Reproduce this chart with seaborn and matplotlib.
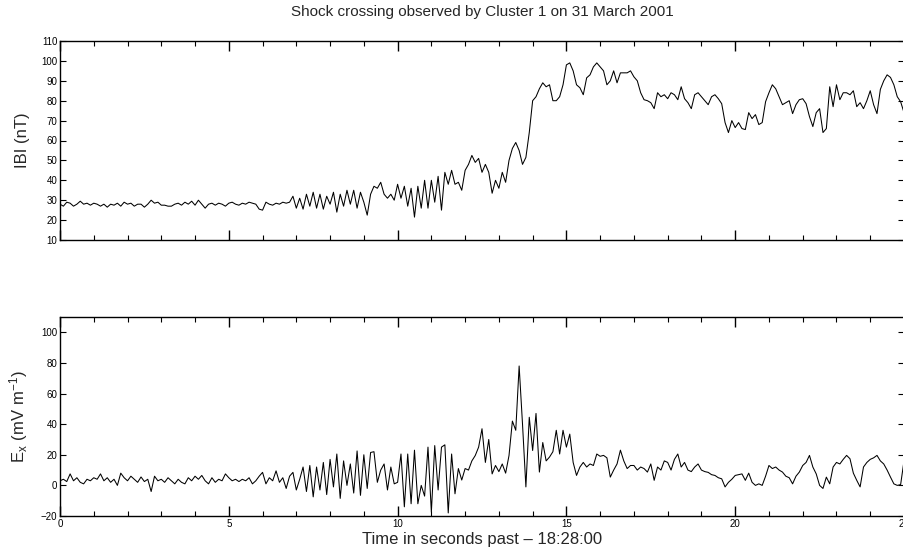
import numpy as np
import pandas as pd
import matplotlib
matplotlib.use("Agg")
import matplotlib.pyplot as plt
from matplotlib.ticker import MultipleLocator
import seaborn as sns

# ---------------- data (0.1 s sampling) ----------------
time_start = 0.0
time_step = 0.1

b_field = [
    28, 27, 29, 28.5, 27, 28, 29.5, 28, 28.5, 27.5,
    28.5, 28, 27, 28, 26.5, 28, 27.5, 28.5, 27, 29,
    28, 28.5, 27, 28, 28, 26.5, 28, 30, 28.5, 29,
    27.5, 27.5, 27, 27, 28, 28.5, 27.5, 29, 28, 29.5,
    27.5, 30, 28, 26, 28, 28.5, 27.5, 28.5, 28, 27,
    28.5, 29, 28, 27.5, 28.5, 28, 29, 28.5, 28, 25.5,
    25, 29, 28, 27.5, 28.5, 28, 29, 28.5, 29, 32,
    26, 31, 25.5, 33, 27, 34, 26, 33, 25.5, 32,
    28, 34, 24, 33, 27, 35, 28, 35, 26, 34,
    29, 22.5, 33, 37, 36, 39, 33, 31, 33, 30,
    38, 31, 37, 27, 36, 21.5, 37, 26, 40, 26,
    40, 29, 42, 25, 44, 38, 45, 38, 39, 35,
    45, 48, 52.5, 49, 51, 44, 48, 44, 33.5, 40,
    36, 44, 39, 50, 56, 59, 55, 48, 51.5, 64,
    80, 82, 86, 89, 87, 88, 80, 80, 82, 88,
    98, 99, 95, 88, 86.5, 83, 91.5, 93, 97, 99,
    97, 95, 88, 90, 95, 89, 94, 94, 94, 95,
    92, 90, 84, 80.5, 80, 79, 76, 84, 82, 83,
    81, 84, 83, 80.5, 87, 81, 79, 76, 83, 84,
    82, 80, 78, 82, 83, 81, 78.5, 69, 64, 70,
    66.5, 69, 66, 65.5, 74, 71, 73, 68, 69, 79.5,
    84, 88, 86, 82, 78, 79, 80, 73.5, 78, 80.5,
    81, 78.5, 72, 67, 74, 76, 64, 66, 87, 77,
    88, 80.5, 84, 84, 83, 85, 77, 79, 76, 80,
    85, 78, 73.5, 85.7, 90, 93, 91.7, 88, 82, 79.5,
    74,
]

e_field = [
    3, 4, 2.5, 7.5, 3, 5, 2, 1, 4, 3,
    5, 4, 7.5, 3, 5, 2, 4, 0, 8, 5,
    3, 6, 4, 2, 5.5, 2.5, 4, -4, 6, 3,
    4, 2, 5, 3, 1, 4, 2, 1, 5, 3,
    6, 4, 6.5, 3, 1, 5, 2, 4, 3, 7.5,
    5, 3, 4, 2.5, 4, 3, 5, 1, 3, 6,
    8.5, 1, 5, 3, 9.5, 2, 5, -2, 6, 8.5,
    -3, 4, 12, -4, 13, -7.5, 12, -3, 15, -6,
    17, -1, 20.5, -8.5, 16, 0, 14, -5, 22.5, -6.5,
    20, -2, 21.5, 22, 2, 10, 14, -3, 12, 1,
    2, 20.5, -14, 20.5, -12, 23, -12, 0, -7, 25,
    -17.5, 26, -3, 25, 26.5, -18, 20.5, -5.5, 11, 3.5,
    11, 10, 16, 19.5, 25, 37, 15, 30, 7.5, 13,
    9, 14, 8, 19.5, 42, 36, 78, 40, -1, 44.5,
    22.8, 47, 8.7, 28, 16, 18.5, 22, 36, 20.5, 36,
    25, 33.5, 15, 6.5, 12, 15, 12, 14, 13, 20.5,
    19, 19.6, 18, 5.4, 10, 14, 23, 16, 11, 13,
    13, 10, 12, 11, 8.7, 14, 3.3, 12, 10, 16,
    15, 10, 17, 20.5, 12, 15, 10, 9, 12, 14,
    10, 9, 8.5, 7, 6.5, 5, 4.3, -1, 2, 4,
    6.5, 7, 7.5, 3.3, 8, 2, 0, 1, 0, 6,
    13, 11, 12, 10, 8.7, 6, 5, 1, 6, 8.7,
    13, 15, 19.6, 12, 7.5, 0, -2, 5.4, 1, 12,
    15, 14, 17, 19.6, 17.4, 8, 3.3, -1, 12, 15,
    17, 18, 19.6, 16, 14, 10, 5.4, 1, 0, 0.5,
    16,
]

x_ticks = [0, 5, 10, 15, 20, 25]
b_ticks = [10, 20, 30, 40, 50, 60, 70, 80, 90, 100, 110]
e_ticks = [-20, 0, 20, 40, 60, 80, 100]

title = "Shock crossing observed by Cluster 1 on 31 March 2001"
b_label = "IBI (nT)"
e_label = r"$\mathregular{E_x\ (mV\ m^{-1})}$"
x_label = "Time in seconds past \u2013 18:28:00"

times = time_start + time_step * np.arange(len(b_field))
df = pd.DataFrame({"t": times, "B": b_field, "E": e_field})

# ---------------- styling ----------------
sns.set_theme(style="ticks")
plt.rcParams["font.family"] = ["Liberation Sans", "DejaVu Sans"]
plt.rcParams["mathtext.fontset"] = "custom"
plt.rcParams["mathtext.rm"] = "Liberation Sans"
plt.rcParams["axes.unicode_minus"] = True

W, H = 904, 551
fig = plt.figure(figsize=(W / 100, H / 100), dpi=100)

left = 60 / W
width = 844 / W
ax1 = fig.add_axes([left, (H - 240) / H, width, 199 / H])
ax2 = fig.add_axes([left, (H - 516) / H, width, 199 / H])

sns.lineplot(data=df, x="t", y="B", ax=ax1, color="black", linewidth=0.75, estimator=None)
sns.lineplot(data=df, x="t", y="E", ax=ax2, color="black", linewidth=0.75, estimator=None)

for ax in (ax1, ax2):
    ax.set_xlim(0, 25)
    ax.set_xticks(x_ticks)
    ax.xaxis.set_minor_locator(MultipleLocator(1))
    ax.tick_params(axis="both", which="both", direction="in", top=True, right=True,
                   labelsize=7, colors="black", pad=2)
    ax.tick_params(axis="x", which="major", length=7, width=1.0)
    ax.tick_params(axis="x", which="minor", length=3.5, width=0.8)
    ax.tick_params(axis="y", which="major", length=4.5, width=0.8)
    for s in ax.spines.values():
        s.set_color("black")
        s.set_linewidth(1.0)
    ax.set_facecolor("white")

ax1.set_ylim(10, 110)
ax1.set_yticks(b_ticks)
ax1.tick_params(axis="x", labelbottom=False)
ax1.set_xlabel("")
ax1.set_ylabel(b_label, fontsize=12)
ax1.yaxis.set_label_coords(-0.036, 0.5)

ax2.set_ylim(-20, 110)
ax2.set_yticks(e_ticks)
ax2.set_xlabel(x_label, fontsize=12)
ax2.xaxis.set_label_coords(0.5, -0.08)
ax2.set_ylabel(e_label, fontsize=12)
ax2.yaxis.set_label_coords(-0.036, 0.5)

fig.text(482 / W, 1 - 12 / H, title, ha="center", va="center", fontsize=11)

fig.savefig("out.png", dpi=100, facecolor="white")
